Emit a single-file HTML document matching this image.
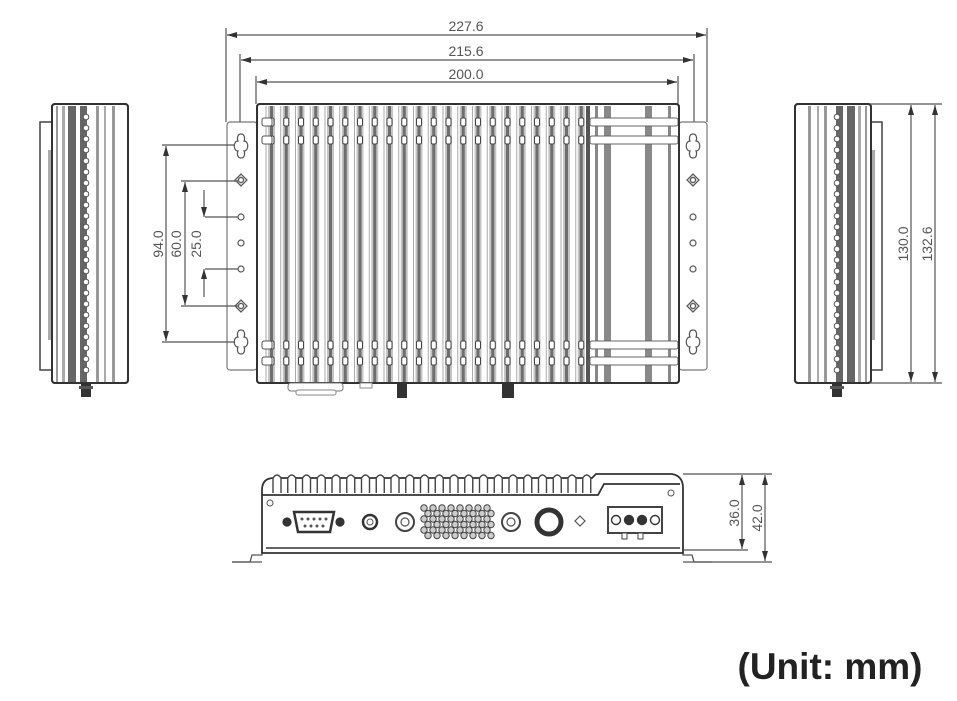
<!DOCTYPE html>
<html><head><meta charset="utf-8"><style>
html,body{margin:0;padding:0;background:#fff;width:957px;height:701px;overflow:hidden}
svg{display:block}
.t{font-family:"Liberation Sans",sans-serif;font-size:14px;fill:#555}
</style></head><body>
<svg id="s" width="957" height="701" viewBox="0 0 957 701" xmlns="http://www.w3.org/2000/svg">
<defs>
<marker id="a" viewBox="0 0 10 6" refX="10" refY="3" markerWidth="10" markerHeight="6" orient="auto-start-reverse" markerUnits="userSpaceOnUse"><path d="M0,0L10,3L0,6z" fill="#333"/></marker>
</defs>
<g id="g"></g>
<g stroke="#555" stroke-width="1.2" fill="none">
<line x1="226" y1="28" x2="226" y2="122"/><line x1="707" y1="28" x2="707" y2="122"/>
<line x1="240" y1="54" x2="240" y2="122"/><line x1="694" y1="54" x2="694" y2="122"/>
<line x1="256" y1="76" x2="256" y2="104"/><line x1="678" y1="76" x2="678" y2="104"/>
<line x1="227" y1="35" x2="706" y2="35" marker-start="url(#a)" marker-end="url(#a)"/>
<line x1="241" y1="60" x2="693" y2="60" marker-start="url(#a)" marker-end="url(#a)"/>
<line x1="257" y1="82" x2="677" y2="82" marker-start="url(#a)" marker-end="url(#a)"/>
<line x1="162" y1="145" x2="235" y2="145"/><line x1="162" y1="342" x2="235" y2="342"/>
<line x1="181" y1="181" x2="238" y2="181"/><line x1="181" y1="306" x2="238" y2="306"/>
<line x1="205" y1="217" x2="238" y2="217"/><line x1="205" y1="269" x2="238" y2="269"/>
<line x1="166" y1="146" x2="166" y2="341" marker-start="url(#a)" marker-end="url(#a)"/>
<line x1="185" y1="182" x2="185" y2="305" marker-start="url(#a)" marker-end="url(#a)"/>
<line x1="204" y1="190" x2="204" y2="217" marker-end="url(#a)"/>
<line x1="204" y1="297" x2="204" y2="269" marker-end="url(#a)"/>
<line x1="870" y1="104" x2="942" y2="104"/><line x1="870" y1="383" x2="942" y2="383"/>
<line x1="911" y1="105" x2="911" y2="382" marker-start="url(#a)" marker-end="url(#a)"/>
<line x1="935" y1="105" x2="935" y2="382" marker-start="url(#a)" marker-end="url(#a)"/>
<line x1="683" y1="474" x2="772" y2="474"/><line x1="683" y1="550" x2="748" y2="550"/><line x1="712" y1="562" x2="772" y2="562"/>
<line x1="742" y1="475" x2="742" y2="549" marker-start="url(#a)" marker-end="url(#a)"/>
<line x1="765" y1="475" x2="765" y2="561" marker-start="url(#a)" marker-end="url(#a)"/>
</g>
<text class="t" x="466" y="31" text-anchor="middle">227.6</text>
<text class="t" x="466" y="56" text-anchor="middle">215.6</text>
<text class="t" x="466" y="79" text-anchor="middle">200.0</text>
<text class="t" transform="translate(163,244) rotate(-90)" text-anchor="middle">94.0</text>
<text class="t" transform="translate(181,244) rotate(-90)" text-anchor="middle">60.0</text>
<text class="t" transform="translate(201,244) rotate(-90)" text-anchor="middle">25.0</text>
<text class="t" transform="translate(908,244) rotate(-90)" text-anchor="middle">130.0</text>
<text class="t" transform="translate(932,244) rotate(-90)" text-anchor="middle">132.6</text>
<text class="t" transform="translate(739,513) rotate(-90)" text-anchor="middle">36.0</text>
<text class="t" transform="translate(762,518) rotate(-90)" text-anchor="middle">42.0</text>
<text x="830" y="679" text-anchor="middle" style="font-family:'Liberation Sans',sans-serif;font-weight:bold;font-size:37px;fill:#222">(Unit: mm)</text>
</svg>
<script>
var g=document.getElementById('g'),h='';
function R(x,y,w,ht,f,s,sw,rx){h+='<rect x="'+x+'" y="'+y+'" width="'+w+'" height="'+ht+'" fill="'+(f||'none')+'" stroke="'+(s||'none')+'" stroke-width="'+(sw||1)+'"'+(rx?' rx="'+rx+'"':'')+'/>';}
function C(x,y,r,f,s,sw){h+='<circle cx="'+x+'" cy="'+y+'" r="'+r+'" fill="'+(f||'none')+'" stroke="'+(s||'#555')+'" stroke-width="'+(sw||1.2)+'"/>';}
function P(d,f,s,sw){h+='<path d="'+d+'" fill="'+(f||'none')+'" stroke="'+(s||'#444')+'" stroke-width="'+(sw||1.2)+'"/>';}
function L(x1,y1,x2,y2,s,sw){h+='<line x1="'+x1+'" y1="'+y1+'" x2="'+x2+'" y2="'+y2+'" stroke="'+(s||'#444')+'" stroke-width="'+(sw||1)+'"/>';}
R(227,122,30,248,'#fff','#777',1.2,3);R(679,122,28,248,'#fff','#777',1.2,3);
function key(x,y){P('M'+x+','+(y-12)+'c4,0 4,5 3,7c5,0 5,10 0,10c1,2 1,7 -3,7c-4,0 -4,-5 -3,-7c-5,0 -5,-10 0,-10c-1,-2 -1,-7 3,-7z','#fff','#555',1.2);}
[241,693].forEach(function(x){key(x,146);key(x,342);
 P('M'+x+',174l6,6l-6,6l-6,-6z','#ddd','#555');C(x,180,2.5,'#fff');
 P('M'+x+',300l6,6l-6,6l-6,-6z','#ddd','#555');C(x,306,2.5,'#fff');
 C(x,217,3,'#fff');C(x,243,3,'#fff');C(x,269,3,'#fff');});
R(257,104,422,279,'#fff','#333',2,3);
for(var k=0;k<22;k++){var x=268+14.75*k;
 R(x,106,7,276,'#c4c4c4');R(x+2,106,3,276,'#6e6e6e');L(x-2,106,x-2,382,'#aaa',1);
 [122,140,345,361].forEach(function(y){R(x+1,y-4,5,8,'#fff','#444',1,1.5);});}
R(262,118,10,8,'#fff','#555',1,2);R(262,136,10,8,'#fff','#555',1,2);R(262,341,10,8,'#fff','#555',1,2);R(262,357,10,8,'#fff','#555',1,2);
[[586,4,'#555'],[595,3,'#888'],[604,7,'#888'],[645,7,'#888'],[668,3,'#888']].forEach(function(a){R(a[0],106,a[1],276,a[2]);});
[118,136,341,357].forEach(function(y){R(590,y,88,8,'#fff','#666',1,2);});
R(257,104,422,279,'none','#333',2,3);
R(288,383,55,8,'#fff','#777',1,3);R(296,390,40,5,'#fff','#888',1,2);R(360,383,12,5,'#fff','#888',1);
R(397,383,10,15,'#333');R(502,383,12,15,'#333');
function side(x0,plateX,mirror){
 R(plateX,122,12,248,'#fff','#444',1.5);R(mirror?plateX+2:plateX+8,150,3,190,'#aaa');
 R(x0,104,76,279,'#fff','#333',2,3);
 var st=[[4,2,'#999'],[10,3,'#aaa'],[16,8,'#666'],[28,7,'#666'],[44,3,'#999'],[52,2,'#aaa'],[60,3,'#999']];
 st.forEach(function(a){var xx=mirror?x0+76-a[0]-a[1]:x0+a[0];R(xx,106,a[1],276,a[2]);});
 var cx=mirror?x0+76-34:x0+34;
 for(var i=0;i<24;i++)C(cx,117+i*11,2.8,'#fff','#555',1);
 R(x0,104,76,279,'none','#333',2,3);
 R(cx-5,383,10,14,'#333');R(cx-7,386,14,3,'#555');
}
side(52,40,false);side(795,870,true);
P('M232,562L250,562L252,555L262,555L262,548','none','#555',1.3);
P('M712,562L694,562L692,555L683,555L683,548','none','#555',1.3);
L(232,562,262,562,'#555',1.3);L(683,562,712,562,'#555',1.3);
P('M262,553L262,490Q262,478 274,478L592,478L596,474L672,474Q683,476 683,488L683,553Z','#fff','#333',1.8);
for(var k=0;k<22;k++){var x=277+14.75*k;P('M'+(x-4)+',493L'+(x-4)+',478Q'+x+',472 '+(x+4)+',478L'+(x+4)+',493','#fff','#444',1.4);}
P('M262,495L598,495L604,484L680,484','none','#333',1.8);
L(266,548,680,548,'#333',1.6);
C(270,503,3,'#fff','#555',1);C(671,493,3,'#fff','#555',1);
C(287,522,4,'#333','#333');C(340,522,4,'#333','#333');
P('M294,512L334,512L330,532L298,532Z','#fff','#333',2.5);
for(var i=0;i<5;i++)C(302+i*6,519,1.3,'#555','#555',0.5);for(var i=0;i<4;i++)C(305+i*6,526,1.3,'#555','#555',0.5);
C(370,522,7,'#fff','#333',2.5);C(370,522,3,'#fff','#555',1);
C(405,522,9,'#fff','#444',2);C(405,522,4,'#fff','#555',1.2);
for(var r=0;r<6;r++)for(var c=0;c<8;c++)C(424+c*9+(r%2?4:0),508+r*5.5,3.2,'#ccc','#444',1);
C(511,522,9,'#fff','#444',2);C(511,522,4,'#fff','#555',1.2);
C(549,522,12,'#fff','#333',5);
P('M580,516l5,5l-5,5l-5,-5z','#fff','#555');
R(608,507,54,26,'#fff','#444',2);for(var i=0;i<4;i++)C(616+i*13,520,4.5,i%3?'#333':'#fff','#333',1.4);
R(622,533,5,6,'#fff','#444');R(638,533,5,6,'#fff','#444');
g.innerHTML=h;
</script>
</body></html>
